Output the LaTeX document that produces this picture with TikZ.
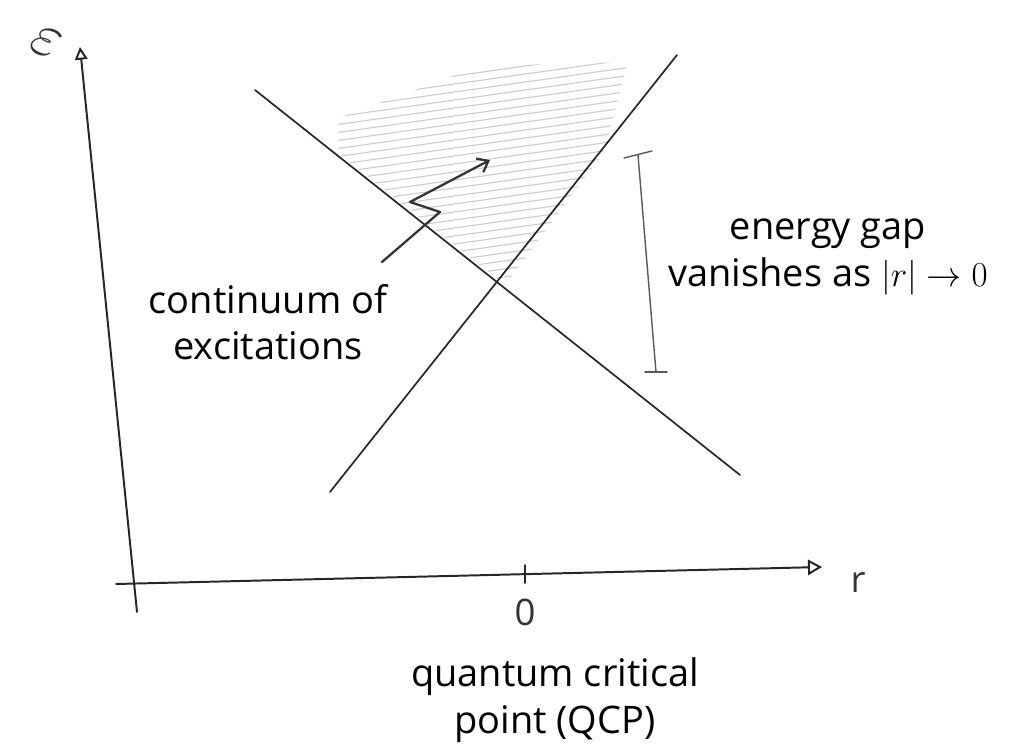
\documentclass[tikz,border=0pt]{standalone}
\usepackage{fontspec}
\setmainfont{Open Sans}
\usetikzlibrary{arrows.meta, positioning, calc}

\begin{document}
\begin{tikzpicture}[
    x=0.025cm, y=-0.025cm,
    axis/.style={line width=1.4pt, line cap=round, black!85},
    branch/.style={line width=1.2pt, line cap=round, black!85},
    hatch/.style={gray!40, line width=0.8pt, line cap=round},
    gapbar/.style={line width=1pt, line cap=round, black!65},
    pointer/.style={line width=1.6pt, line cap=round, line join=round, black!80, -{Straight Barb[length=7pt, width=11pt]}},
    label/.style={align=center, font=\fontsize{27}{33}\selectfont},
    hand/.style={font=\fontsize{26}{30}\selectfont, black!80}
]
\useasboundingbox (0,0) rectangle (1009,755);

% Coordinates
\coordinate (etop) at (80,47);
\coordinate (ebot) at (137,612);
\coordinate (rleft) at (116,584);
\coordinate (rright) at (822,567);
\coordinate (zero) at (525,575);
\coordinate (downA) at (255,90);
\coordinate (downB) at (740,475);
\coordinate (upA) at (330,492);
\coordinate (upB) at (677,55);
\coordinate (qcp) at (505,285);

% Continuum (shaded)
\begin{scope}
    \clip (qcp) -- (338,153) -- (338,118) -- (480,66) -- (628,62) -- (604,152) -- cycle;
    \foreach \y in {55,63,...,320}
        \draw[hatch] (320,\y) -- (660,\y-48);
\end{scope}

% Axes
\draw[axis, -{Triangle[open, length=9pt, width=9pt]}] (ebot) -- (etop);
\draw[axis, -{Triangle[open, length=10pt, width=11pt]}] (rleft) -- (rright);
\draw[axis] ($(zero)+(0,-10)$) -- ($(zero)+(0,8)$);

% Branches
\draw[branch] (downA) -- (downB);
\draw[branch] (upA) -- (upB);

% Gap bar
\coordinate (gaptop) at (638,155);
\coordinate (gapbot) at (656,372);
\draw[gapbar] (gaptop) -- (gapbot);
\draw[gapbar] (624,158) -- (652,151);
\draw[gapbar] (645,372) -- (667,372);

% Pointer into continuum
\draw[pointer] (382,262) -- (440,212) -- (410,202) -- (490,160);

% Labels
\node (eps) [hand, scale=1.8, rotate=-25, inner sep=0pt] at (46,42) {$\varepsilon$};
\node (rlab) [hand] at (858,583) {r};
\node (zlab) [hand] at (525,612) {0};
\node (cont) [label] at (268,322) {continuum of\\excitations};
\node (gap) [label] at (828,257) {energy gap\\vanishes as $|r|\to0$};
\node (qcplab) [label] at (555,700) {quantum critical\\point (QCP)};

\end{tikzpicture}
\end{document}
